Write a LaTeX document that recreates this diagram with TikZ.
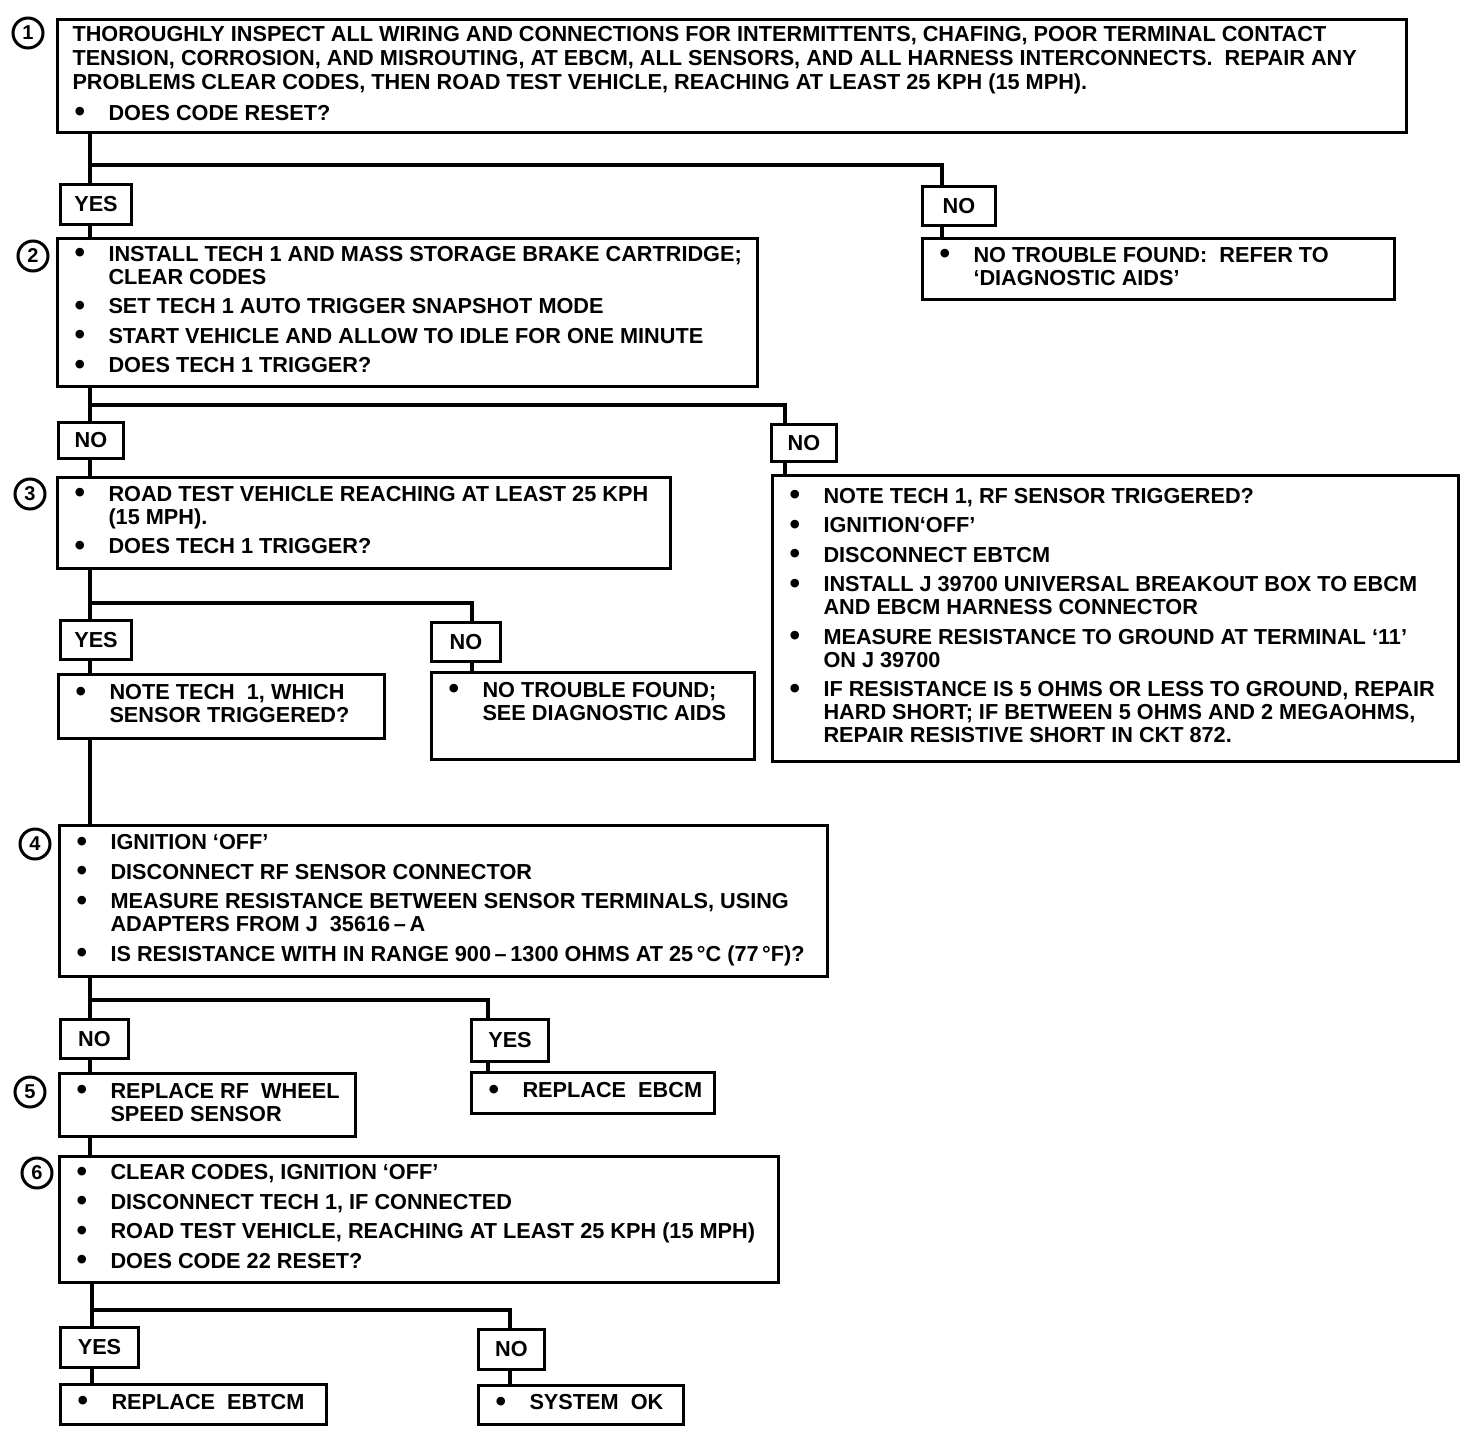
\documentclass[tikz,border=0pt]{standalone}
\usepackage{fontspec}
\setmainfont{Liberation Sans}
\newcommand\myfont{\fontsize{21.7}{23}\selectfont\bfseries}
\newcommand\numfnt{\fontsize{20}{20}\selectfont\bfseries}
\newcommand\bul{\makebox[36pt][l]{\hspace{2pt}\raisebox{-1.5pt}{\fontsize{30}{23}\selectfont\textbullet}}}
\newcommand\ind{\hspace*{36pt}}
\newcommand\igap{\\[6.5pt]}
\newcommand\tb[2]{\makebox[#1][l]{\begin{tabular}{@{}l@{}}#2\end{tabular}}}
\tikzset{
  box/.style={draw, line width=3pt, anchor=north west, inner xsep=15pt, inner ysep=0pt, font=\myfont},
  lbl/.style={draw, line width=3pt, anchor=north west, inner sep=0pt, font=\myfont},
  num/.style={circle, draw, line width=3pt, minimum size=30pt, inner sep=0pt, font=\numfnt},
  wire/.style={line width=4pt}
}
\begin{document}
\begin{tikzpicture}[x=1pt,y=-1pt]
\fill[white] (0,0) rectangle (1472,1432);
\useasboundingbox (0,0) rectangle (1472,1432);

% ---- step 1
\node[num] (c1) at (28,33) {1};
\node[box, minimum width=1349pt, minimum height=113pt] (b1) at (56,18)
 {\tb{1319pt}{THOROUGHLY INSPECT ALL WIRING AND CONNECTIONS FOR INTERMITTENTS, CHAFING, POOR TERMINAL CONTACT\\[1pt]
  TENSION, CORROSION, AND MISROUTING, AT EBCM, ALL SENSORS, AND ALL HARNESS INTERCONNECTS.\ \ REPAIR ANY\\[1pt]
  PROBLEMS CLEAR CODES, THEN ROAD TEST VEHICLE, REACHING AT LEAST 25 KPH (15 MPH).\\[8pt]
  \bul DOES CODE RESET?}};
\node[lbl, minimum width=71pt, minimum height=40pt] (y1) at (59,183) {YES};
\node[lbl, minimum width=73pt, minimum height=39pt] (n1) at (921,185) {NO};

% ---- step 2
\node[num] (c2) at (33,256) {2};
\node[box, minimum width=700pt, minimum height=148pt] (b2) at (56,237)
 {\tb{670pt}{\bul INSTALL TECH 1 AND MASS STORAGE BRAKE CARTRIDGE;\\
  \ind CLEAR CODES\igap
  \bul SET TECH 1 AUTO TRIGGER SNAPSHOT MODE\igap
  \bul START VEHICLE AND ALLOW TO IDLE FOR ONE MINUTE\igap
  \bul DOES TECH 1 TRIGGER?}};
\node[box, minimum width=472pt, minimum height=61pt] (nt1) at (921,237)
 {\tb{442pt}{\bul NO TROUBLE FOUND:\ \ REFER TO\\
  \ind `DIAGNOSTIC AIDS'}};
\node[lbl, minimum width=65pt, minimum height=36pt] (n2a) at (57,421) {NO};
\node[lbl, minimum width=65pt, minimum height=37pt] (n2b) at (770,423) {NO};

% ---- step 3
\node[num] (c3) at (30,494) {3};
\node[box, minimum width=613pt, minimum height=91pt] (b3) at (56,476)
 {\tb{583pt}{\bul ROAD TEST VEHICLE REACHING AT LEAST 25 KPH\\
  \ind (15 MPH).\igap
  \bul DOES TECH 1 TRIGGER?}};
\node[box, minimum width=686pt, minimum height=286pt] (rb) at (771,474)
 {\tb{656pt}{\bul NOTE TECH 1, RF SENSOR TRIGGERED?\igap
  \bul IGNITION`OFF'\igap
  \bul DISCONNECT EBTCM\igap
  \bul INSTALL J 39700 UNIVERSAL BREAKOUT BOX TO EBCM\\
  \ind AND EBCM HARNESS CONNECTOR\igap
  \bul MEASURE RESISTANCE TO GROUND AT TERMINAL `11'\\
  \ind ON J 39700\igap
  \bul IF RESISTANCE IS 5 OHMS OR LESS TO GROUND, REPAIR\\
  \ind HARD SHORT; IF BETWEEN 5 OHMS AND 2 MEGAOHMS,\\
  \ind REPAIR RESISTIVE SHORT IN CKT 872.}};
\node[lbl, minimum width=71pt, minimum height=39pt] (y3) at (59,619) {YES};
\node[lbl, minimum width=69pt, minimum height=39pt] (n3) at (430,621) {NO};
\node[box, minimum width=326pt, minimum height=64pt] (nt) at (57,673)
 {\tb{296pt}{\bul NOTE TECH\ \ 1, WHICH\\
  \ind SENSOR TRIGGERED?}};
\node[box, minimum width=323pt, minimum height=87pt] (nt2) at (430,671)
 {\tb{293pt}{\bul NO TROUBLE FOUND;\\
  \ind SEE DIAGNOSTIC AIDS\\[24pt]}};

% ---- step 4
\node[num] (c4) at (35,844) {4};
\node[box, minimum width=768pt, minimum height=151pt] (b4) at (58,824)
 {\tb{738pt}{\bul IGNITION `OFF'\igap
  \bul DISCONNECT RF SENSOR CONNECTOR\igap
  \bul MEASURE RESISTANCE BETWEEN SENSOR TERMINALS, USING\\
  \ind ADAPTERS FROM J\ \ 35616\,–\,A\igap
  \bul IS RESISTANCE WITH IN RANGE 900\,–\,1300 OHMS AT 25\,°C (77\,°F)?}};
\node[lbl, minimum width=68pt, minimum height=39pt] (n4) at (59,1018) {NO};
\node[lbl, minimum width=77pt, minimum height=42pt] (y4) at (470,1018) {YES};

% ---- step 5
\node[num] (c5) at (30,1092) {5};
\node[box, minimum width=296pt, minimum height=63pt] (b5) at (58,1072)
 {\tb{266pt}{\bul REPLACE RF\ \ WHEEL\\
  \ind SPEED SENSOR}};
\node[box, minimum width=243pt, minimum height=41pt] (re) at (470,1071)
 {\tb{213pt}{\bul REPLACE\ \ EBCM}};

% ---- step 6
\node[num] (c6) at (37,1173) {6};
\node[box, minimum width=719pt, minimum height=126pt] (b6) at (58,1155)
 {\tb{689pt}{\bul CLEAR CODES, IGNITION `OFF'\igap
  \bul DISCONNECT TECH 1, IF CONNECTED\igap
  \bul ROAD TEST VEHICLE, REACHING AT LEAST 25 KPH (15 MPH)\igap
  \bul DOES CODE 22 RESET?}};
\node[lbl, minimum width=78pt, minimum height=40pt] (y6) at (59,1326) {YES};
\node[lbl, minimum width=66pt, minimum height=40pt] (n6) at (477,1328) {NO};
\node[box, minimum width=266pt, minimum height=40pt] (rt) at (59,1383)
 {\tb{236pt}{\bul REPLACE\ \ EBTCM}};
\node[box, minimum width=205pt, minimum height=39pt] (ok) at (477,1384)
 {\tb{175pt}{\bul SYSTEM\ \ OK}};

% ---- connectors
\coordinate (j1) at (90,165);  \coordinate (k1) at (942,165);
\draw[wire] (j1 |- b1.south) -- (j1 |- y1.north);
\draw[wire] (j1) -- (k1) -- (k1 |- n1.north);
\draw[wire] (j1 |- y1.south) -- (j1 |- b2.north);
\draw[wire] (k1 |- n1.south) -- (k1 |- nt1.north);

\coordinate (j2) at (90,405);  \coordinate (k2) at (785,405);
\draw[wire] (j2 |- b2.south) -- (j2 |- n2a.north);
\draw[wire] (j2) -- (k2) -- (k2 |- n2b.north);
\draw[wire] (j2 |- n2a.south) -- (j2 |- b3.north);
\draw[wire] (k2 |- n2b.south) -- (k2 |- rb.north);

\coordinate (j3) at (90,603);  \coordinate (k3) at (472,603);
\draw[wire] (j3 |- b3.south) -- (j3 |- y3.north);
\draw[wire] (j3) -- (k3) -- (k3 |- n3.north);
\draw[wire] (j3 |- y3.south) -- (j3 |- nt.north);
\draw[wire] (k3 |- n3.south) -- (k3 |- nt2.north);
\draw[wire] (j3 |- nt.south) -- (j3 |- b4.north);

\coordinate (j4) at (90,1000); \coordinate (k4) at (488,1000);
\draw[wire] (j4 |- b4.south) -- (j4 |- n4.north);
\draw[wire] (j4) -- (k4) -- (k4 |- y4.north);
\draw[wire] (j4 |- n4.south) -- (j4 |- b5.north);
\draw[wire] (k4 |- y4.south) -- (k4 |- re.north);
\draw[wire] (j4 |- b5.south) -- (j4 |- b6.north);

\coordinate (j6) at (92,1310); \coordinate (k6) at (510,1310);
\draw[wire] (j6 |- b6.south) -- (j6 |- y6.north);
\draw[wire] (j6) -- (k6) -- (k6 |- n6.north);
\draw[wire] (j6 |- y6.south) -- (j6 |- rt.north);
\draw[wire] (k6 |- n6.south) -- (k6 |- ok.north);
\end{tikzpicture}
\end{document}
